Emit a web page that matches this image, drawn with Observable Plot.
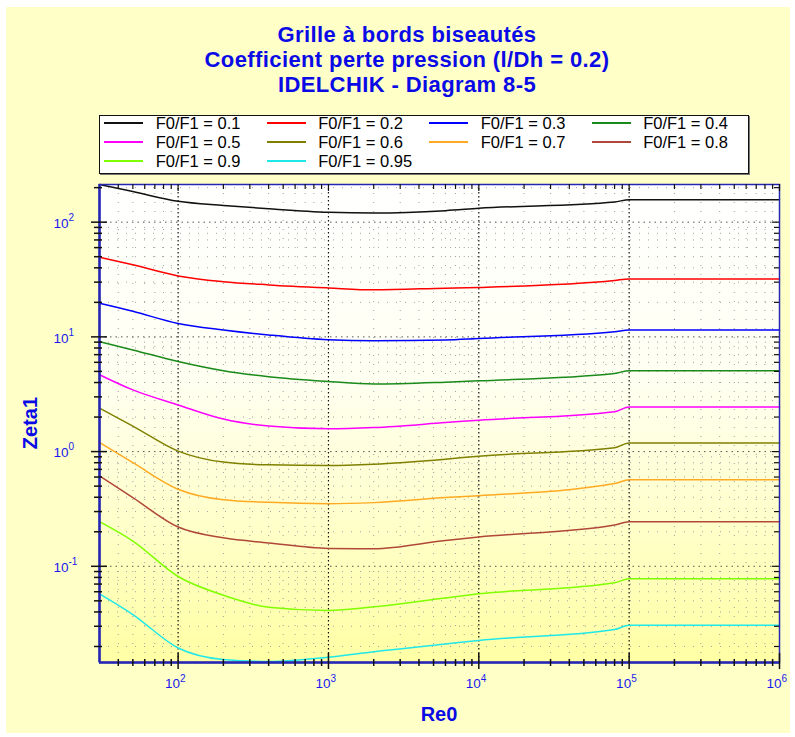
<!DOCTYPE html>
<html>
<head>
<meta charset="utf-8">
<script src="https://cdn.jsdelivr.net/npm/d3@7"></script>
<script src="https://cdn.jsdelivr.net/npm/@observablehq/plot@0.6"></script>
<style>
  html, body { margin: 0; padding: 0; background: #ffffff; }
  body { width: 795px; height: 737px; position: relative; overflow: hidden;
         font-family: "Liberation Sans", Arial, sans-serif; }
  #panel { position: absolute; left: 6px; top: 7px; width: 784px; height: 726px; background: #FFFFC8; }
  #title { position: absolute; left: 0; top: 22px; width: 814px; text-align: center;
           font-weight: bold; font-size: 22px; line-height: 25px; letter-spacing: 0.4px; color: #0a0ae6; }
  #legendBox { position: absolute; left: 99px; top: 115px; width: 650px; height: 59px; box-sizing: border-box;
               background: #ffffff; border: 1px solid #111; box-shadow: 1px 1px 0 #777; }
  .lg { position: absolute; font-size: 16.5px; line-height: 19px; color: #000; white-space: nowrap; }
  .sw { position: absolute; height: 2px; }
  #chart { position: absolute; left: 0; top: 176px; }
  .axt { position: absolute; width: 100px; height: 24px; line-height: 24px; text-align: center;
         font-weight: bold; font-size: 20px; color: #0a0ae6; }
</style>
</head>
<body>
<div id="panel"></div>
<div id="title">Grille à bords biseautés<br>Coefficient perte pression (l/Dh = 0.2)<br>IDELCHIK - Diagram 8-5</div>
<div id="legendBox"></div>
<div id="legend"></div>
<div id="chart"></div>
<div class="axt" style="left:-20px; top:411px; transform: rotate(-90deg);">Zeta1</div>
<div class="axt" style="left:389px; top:702px;">Re0</div>
<script>
// ---------- data ----------
const seriesNames = ["F0/F1 = 0.1", "F0/F1 = 0.2", "F0/F1 = 0.3", "F0/F1 = 0.4", "F0/F1 = 0.5",
                     "F0/F1 = 0.6", "F0/F1 = 0.7", "F0/F1 = 0.8", "F0/F1 = 0.9", "F0/F1 = 0.95"];
const seriesColors = ["#111111", "#ff0000", "#0000ff", "#1a8a1a", "#ff00ff",
                      "#808000", "#ffaa22", "#b0483a", "#80ff00", "#20e8e8"];
const reX = [30, 50, 100, 200, 400, 1000, 2000, 6000, 10000, 80000, 100000, 1000000];
const zeta_01  = [213, 185, 152, 140, 131, 122, 120, 126, 132, 150, 157, 157];
const zeta_02  = [49.4, 42.5, 34, 30.3, 28.4, 26.7, 25.7, 26.6, 27, 31, 32, 32];
const zeta_03  = [19.6, 16.7, 13.1, 11.5, 10.4, 9.44, 9.26, 9.4, 9.7, 11.1, 11.5, 11.5];
const zeta_04  = [9.08, 7.7, 6.1, 5.07, 4.49, 4.08, 3.88, 4.03, 4.14, 4.8, 5.07, 5.07];
const zeta_05  = [4.68, 3.45, 2.55, 1.92, 1.67, 1.58, 1.62, 1.79, 1.88, 2.23, 2.45, 2.45];
const zeta_06  = [2.39, 1.67, 1.01, 0.81, 0.766, 0.755, 0.776, 0.859, 0.912, 1.08, 1.19, 1.19];
const zeta_07  = [1.2, 0.80, 0.47, 0.38, 0.361, 0.351, 0.359, 0.397, 0.413, 0.526, 0.569, 0.569];
const zeta_08  = [0.614, 0.397, 0.22, 0.177, 0.160, 0.143, 0.142, 0.168, 0.180, 0.229, 0.245, 0.245];
const zeta_09  = [0.245, 0.166, 0.0815, 0.056, 0.044, 0.0412, 0.0443, 0.053, 0.0575, 0.0718, 0.0778, 0.0778];
const zeta_095 = [0.0575, 0.038, 0.0194, 0.0154, 0.0148, 0.0161, 0.018, 0.021, 0.0226, 0.0281, 0.0306, 0.0306];
const seriesValues = [zeta_01, zeta_02, zeta_03, zeta_04, zeta_05, zeta_06, zeta_07, zeta_08, zeta_09, zeta_095];

const xDomain = [30, 1000000];
const yDomain = [0.0145, 213];
const xMajorTicks = [100, 1000, 10000, 100000, 1000000];
const xTickExponents = ["2", "3", "4", "5", "6"];
const yMajorTicks = [0.1, 1, 10, 100];
const yTickExponents = ["-1", "0", "1", "2"];
const xMinorTicks = [40, 50, 60, 70, 80, 90, 200, 300, 400, 500, 600, 700, 800, 900,
  2000, 3000, 4000, 5000, 6000, 7000, 8000, 9000, 20000, 30000, 40000, 50000, 60000, 70000, 80000, 90000,
  200000, 300000, 400000, 500000, 600000, 700000, 800000, 900000];
const yMinorTicks = [0.02, 0.03, 0.04, 0.05, 0.06, 0.07, 0.08, 0.09, 0.2, 0.3, 0.4, 0.5, 0.6, 0.7, 0.8, 0.9,
  2, 3, 4, 5, 6, 7, 8, 9, 20, 30, 40, 50, 60, 70, 80, 90, 200];

// ---------- table for Plot ----------
const rows = [];
seriesNames.forEach((name, i) => {
  reX.forEach((x, j) => rows.push({series: name, x, y: seriesValues[i][j]}));
});

// ---------- legend (HTML) ----------
const legend = document.getElementById("legend");
seriesNames.forEach((name, i) => {
  const col = i % 4, row = Math.floor(i / 4);
  const lx = 104 + col * 162.5, tx = 155.7 + col * 162.5;
  const baseY = 129.3 + row * 19;
  const sw = document.createElement("div");
  sw.className = "sw";
  sw.style.left = lx + "px"; sw.style.width = "39px";
  sw.style.top = (baseY - 7) + "px"; sw.style.background = seriesColors[i];
  legend.appendChild(sw);
  const t = document.createElement("div");
  t.className = "lg";
  t.style.left = tx + "px"; t.style.top = (baseY - 15.2) + "px";
  t.textContent = name;
  legend.appendChild(t);
});

// ---------- chart ----------
const W = 795, H = 561, mL = 99, mR = 16, mT = 8, mB = 75;
const pw = W - mL - mR, ph = H - mT - mB;
const axisBlue = "#2626b4";
const labelBlue = "#1a1aee";
const font = "Liberation Sans, Arial, sans-serif";

const svg = Plot.plot({
  width: W, height: H,
  marginLeft: mL, marginRight: mR, marginTop: mT, marginBottom: mB,
  style: {background: "transparent", fontFamily: font, overflow: "visible"},
  x: {type: "log", domain: xDomain, axis: null},
  y: {type: "log", domain: yDomain, axis: null},
  color: {domain: seriesNames, range: seriesColors},
  marks: [
    Plot.frame({fill: "#ffffff", stroke: "none"}),
    // grid
    Plot.ruleX(xMinorTicks, {stroke: "#a0a0a0", strokeDasharray: "1,8", strokeWidth: 1}),
    Plot.ruleY(yMinorTicks, {stroke: "#a0a0a0", strokeDasharray: "1,8", strokeWidth: 1}),
    Plot.ruleY(yMajorTicks, {stroke: "#555", strokeDasharray: "1.5,4", strokeWidth: 1}),
    Plot.ruleX(xMajorTicks.slice(0, 4), {stroke: "#111", strokeDasharray: "1.5,2.5", strokeWidth: 1.2}),
    // curves
    Plot.line(rows, {x: "x", y: "y", z: "series", stroke: "series", strokeWidth: 1.5, curve: "monotone-x"}),
    // frame
    Plot.frame({stroke: axisBlue, strokeWidth: 1.5}),
    Plot.ruleX([xDomain[0]], {stroke: axisBlue, strokeWidth: 2.5}),
    Plot.ruleY([yDomain[0]], {stroke: axisBlue, strokeWidth: 2.5}),
    // left ticks
    Plot.tickY(yMajorTicks, {y: d => d, insetRight: pw - 16, dx: -8, stroke: "#111", strokeWidth: 1.5}),
    Plot.tickY(yMinorTicks, {y: d => d, insetRight: pw - 8, dx: -5, stroke: "#111", strokeWidth: 1.5}),
    // right ticks
    Plot.tickY(yMajorTicks, {y: d => d, insetLeft: pw - 7, stroke: "#111", strokeWidth: 1.2}),
    Plot.tickY(yMinorTicks, {y: d => d, insetLeft: pw - 5, stroke: "#111", strokeWidth: 1.2}),
    // bottom ticks
    Plot.tickX(xMajorTicks, {x: d => d, insetTop: ph - 16, dy: 7, stroke: "#111", strokeWidth: 1.5}),
    Plot.tickX(xMinorTicks, {x: d => d, insetTop: ph - 7, dy: 4, stroke: "#111", strokeWidth: 1.5}),
    // top ticks
    Plot.tickX(xMajorTicks, {x: d => d, insetBottom: ph - 7, stroke: "#111", strokeWidth: 1.2}),
    Plot.tickX(xMinorTicks, {x: d => d, insetBottom: ph - 5, stroke: "#111", strokeWidth: 1.2}),
    // y tick labels 10^n
    Plot.text(yMajorTicks, {y: d => d, frameAnchor: "left", text: () => "10", textAnchor: "end",
      dx: -31, dy: 1.5, fill: labelBlue, fontSize: 13.5, fontFamily: font}),
    Plot.text(yMajorTicks, {y: d => d, frameAnchor: "left", text: (d, i) => yTickExponents[i], textAnchor: "start",
      dx: -31, dy: -4.5, fill: labelBlue, fontSize: 10, fontFamily: font}),
    // x tick labels 10^n
    Plot.text(xMajorTicks, {x: d => d, frameAnchor: "bottom", text: () => "10", textAnchor: "end",
      dx: 2, dy: 25.5, fill: labelBlue, fontSize: 13.5, fontFamily: font}),
    Plot.text(xMajorTicks, {x: d => d, frameAnchor: "bottom", text: (d, i) => xTickExponents[i], textAnchor: "start",
      dx: 2, dy: 19, fill: labelBlue, fontSize: 10, fontFamily: font})
  ]
});

// gradient background of the plotting area
const sel = d3.select(svg);
const defs = sel.insert("defs", ":first-child");
const grad = defs.append("linearGradient").attr("id", "bgGrad")
  .attr("x1", 0).attr("y1", 0).attr("x2", 0).attr("y2", 1);
grad.append("stop").attr("offset", "0%").attr("stop-color", "#ffffff");
grad.append("stop").attr("offset", "40%").attr("stop-color", "#fffff2");
grad.append("stop").attr("offset", "100%").attr("stop-color", "#ffffa4");
const fr = sel.select('[aria-label="frame"]');
fr.attr("fill", "url(#bgGrad)");
fr.selectAll("rect").attr("fill", "url(#bgGrad)");

document.getElementById("chart").appendChild(svg);
</script>
</body>
</html>
